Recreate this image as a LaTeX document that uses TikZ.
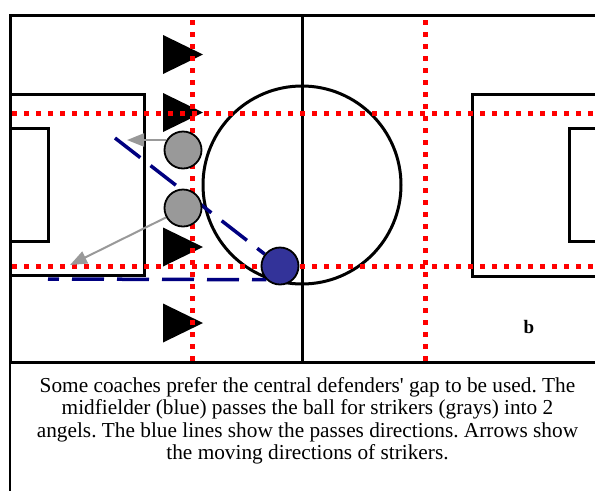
\documentclass[tikz,border=0pt]{standalone}
\usepackage{fontspec}
\setmainfont{Liberation Serif}[Ligatures=TeXOff]
\usetikzlibrary{arrows.meta}
\definecolor{reddot}{RGB}{255,0,0}
\definecolor{navyline}{RGB}{0,0,128}
\definecolor{graypl}{RGB}{153,153,153}
\definecolor{bluepl}{RGB}{51,51,153}
\pgfdeclarelayer{back}
\pgfsetlayers{back,main}
\begin{document}
\frenchspacing
\begin{tikzpicture}[x=1pt,y=-1pt,
 fieldline/.style={line width=3pt, black},
 reddots/.style={line width=5pt, reddot, dash pattern=on 5pt off 7pt},
 pass/.style={line width=3.5pt, navyline, dash pattern=on 32pt off 13pt},
 move/.style={line width=2pt, graypl, -{Triangle[length=17pt,width=13pt]}},
 player/.style={circle, draw=black, line width=1.8pt, minimum size=37pt, inner sep=0pt},
 striker/.style={player, fill=graypl},
 midf/.style={player, fill=bluepl},
 defender/.style={fill=black}]
\useasboundingbox (0,0) rectangle (595,491);
% players
\node[striker] (g1) at (183,150) {};
\node[striker] (g2) at (183,208) {};
\node[midf] (m) at (280,266) {};
\coordinate (p1) at (115,138);
\coordinate (p2) at (48,279);
\coordinate (a1) at (127,139);
\coordinate (a2) at (70,265);
\begin{pgfonlayer}{back}
\fill[white] (0,0) rectangle (595,491);
% field
\draw[fieldline] (600,15) -- (10,15) -- (10,362) -- (600,362);
\draw[line width=2pt] (10,362) -- (10,491);
\draw[fieldline] (302,15) -- (302,362);
\draw[fieldline] (10,94) -- (144,94) -- (144,275) -- (10,275);
\draw[fieldline] (10,128) -- (48,128) -- (48,241) -- (10,241);
\draw[fieldline] (600,94) -- (472,94) -- (472,276) -- (600,276);
\draw[fieldline] (600,128) -- (569,128) -- (569,241) -- (600,241);
\draw[fieldline] (302,185) circle[radius=99];
% defenders
\foreach \yy in {54.5,112.5,247,323}
  \fill[defender] (163,\yy-19.5) -- (203,\yy) -- (163,\yy+19.5) -- cycle;
% red zone lines
\draw[reddots] (192,20) -- (192,362);
\draw[reddots] (425,20) -- (425,362);
\draw[reddots] (12,113) -- (600,113);
\draw[reddots] (12,266) -- (600,266);
% passes
\draw[pass] (p1) -- (m);
\draw[pass, dash phase=21pt] (p2) -- (m.south west);
% striker movements
\draw[move] (g1.149) -- (g1.149 -| a1);
\draw[move] (g2.209) -- (a2);
\end{pgfonlayer}
\node[font=\bfseries\fontsize{19}{19}\selectfont, anchor=base, inner sep=0pt] (lbl) at (529,333) {b};
\node[anchor=north, inner sep=0pt, align=center,
      font=\fontsize{21.3}{22.3}\selectfont] (cap) at (307.5,377.3)
 {Some coaches prefer the central defenders' gap to be used. The\\
  midfielder (blue) passes the ball for strikers (grays) into 2\\
  angels. The blue lines show the passes directions. Arrows show\\
  the moving directions of strikers.};
\end{tikzpicture}
\end{document}
